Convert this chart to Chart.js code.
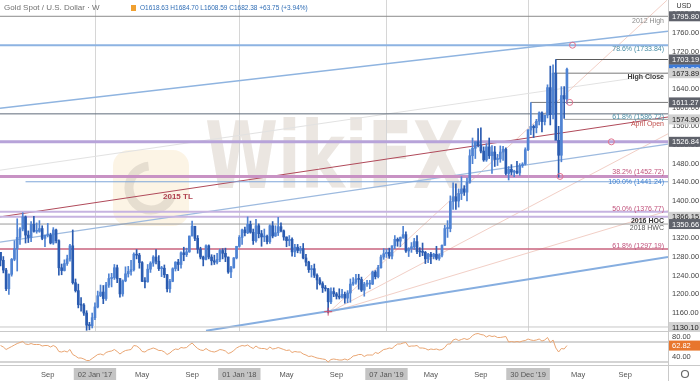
<!DOCTYPE html>
<html>
<head>
<meta charset="utf-8">
<script src="https://cdn.jsdelivr.net/npm/chart.js@4.4.1/dist/chart.umd.min.js"></script>
<style>
html, body { margin: 0; padding: 0; background: #fff; }
#wrap { width: 700px; height: 381px; position: relative; }
</style>
</head>
<body>
<div id="wrap"><canvas id="goldChart" width="700" height="381"></canvas></div>
<script>
// Weekly XAU/USD candles, week 0 = week of 09 May 2016
const opens = [
  1290,1273,1252,1212,1243,1275,1298,1322,1340,1366,
  1327,1322,1350,1335,1335,1341,1320,1327,1327,1310,
  1338,1315,1257,1251,1266,1276,1304,1225,1208,1178,
  1177,1160,1134,1133,1150,1173,1197,1205,1191,1220,
  1234,1236,1257,1234,1201,1229,1244,1249,1253,1286,
  1284,1268,1228,1227,1254,1267,1280,1271,1255,1256,
  1242,1212,1228,1255,1269,1264,1289,1285,1291,1325,
  1346,1320,1297,1280,1275,1304,1280,1272,1269,1275,
  1294,1288,1280,1248,1257,1278,1303,1322,1338,1332,
  1350,1333,1315,1347,1330,1323,1324,1313,1347,1325,
  1332,1345,1336,1323,1315,1318,1291,1301,1294,1298,
  1278,1269,1253,1255,1241,1231,1223,1214,1212,1184,
  1206,1201,1196,1194,1200,1192,1203,1222,1226,1233,
  1232,1209,1222,1222,1222,1248,1238,1257,1280,1287,
  1290,1282,1304,1318,1314,1322,1328,1293,1298,1302,
  1313,1292,1291,1290,1276,1286,1281,1286,1277,1284,
  1305,1341,1341,1399,1409,1400,1416,1426,1419,1440,
  1497,1513,1527,1520,1507,1488,1516,1497,1505,1489,
  1490,1505,1511,1459,1468,1462,1464,1460,1476,1479,
  1510,1552,1560,1557,1571,1589,1570,1584,1643,1585,
  1674,1530,1498,1626,1618.63
];
const highs = [
  1290,1281,1256,1244,1277,1315,1362,1343,1375,1368,
  1336,1356,1367,1353,1358,1347,1327,1352,1331,1343,
  1340,1317,1265,1274,1284,1307,1338,1233,1222,1193,
  1180,1165,1140,1160,1182,1207,1220,1219,1226,1244,
  1245,1264,1263,1234,1231,1259,1260,1273,1289,1296,
  1288,1270,1236,1264,1270,1283,1296,1283,1260,1263,
  1243,1232,1257,1270,1275,1291,1301,1299,1325,1357,
  1346,1326,1301,1282,1306,1306,1285,1284,1288,1297,
  1298,1299,1280,1260,1279,1303,1326,1340,1344,1366,
  1357,1340,1361,1351,1337,1340,1327,1349,1356,1347,
  1365,1353,1338,1323,1326,1321,1307,1307,1303,1309,
  1286,1271,1262,1265,1244,1236,1227,1219,1213,1214,
  1214,1204,1212,1211,1205,1208,1233,1236,1243,1243,
  1237,1226,1230,1230,1250,1251,1262,1284,1298,1297,
  1299,1304,1326,1321,1323,1346,1334,1300,1311,1320,
  1326,1300,1310,1292,1288,1290,1288,1303,1287,1306,
  1348,1358,1411,1439,1437,1426,1452,1433,1449,1510,
  1535,1527,1555,1557,1516,1523,1535,1519,1517,1500,
  1518,1517,1514,1474,1478,1466,1485,1480,1482,1514,
  1553,1611,1563,1575,1591,1591,1584,1649,1689,1692,
  1703,1560,1645,1645,1684.70
];
const lows = [
  1261,1246,1208,1200,1239,1272,1250,1307,1336,1310,
  1311,1313,1333,1331,1333,1317,1302,1323,1308,1307,
  1310,1241,1242,1250,1262,1271,1222,1205,1171,1164,
  1155,1123,1124,1128,1146,1171,1195,1180,1187,1215,
  1216,1232,1225,1194,1196,1227,1237,1241,1250,1276,
  1256,1227,1214,1226,1247,1260,1265,1251,1238,1236,
  1205,1204,1227,1250,1251,1256,1272,1281,1290,1325,
  1315,1288,1276,1261,1274,1276,1263,1264,1265,1270,
  1276,1270,1245,1236,1256,1276,1301,1307,1325,1330,
  1331,1307,1312,1321,1303,1313,1308,1309,1321,1324,
  1326,1334,1316,1302,1304,1282,1281,1289,1288,1276,
  1261,1247,1237,1236,1211,1220,1204,1207,1160,1180,
  1195,1190,1190,1192,1181,1182,1183,1219,1222,1211,
  1206,1196,1217,1212,1221,1233,1235,1256,1275,1279,
  1277,1276,1298,1303,1302,1320,1290,1281,1290,1296,
  1287,1281,1283,1266,1268,1266,1276,1274,1273,1280,
  1305,1322,1334,1382,1382,1387,1403,1412,1400,1438,
  1480,1491,1516,1503,1485,1485,1491,1459,1474,1476,
  1483,1487,1456,1445,1456,1452,1458,1455,1472,1477,
  1508,1542,1536,1546,1563,1548,1563,1578,1563,1576,
  1563,1451,1484,1577,1608.59
];
const closes = [
  1273,1252,1212,1243,1275,1298,1322,1340,1366,1327,
  1322,1350,1335,1335,1341,1320,1327,1327,1310,1338,
  1315,1257,1251,1266,1276,1304,1225,1208,1178,1177,
  1160,1134,1133,1150,1173,1197,1205,1191,1220,1234,
  1236,1257,1234,1201,1229,1244,1249,1253,1286,1284,
  1268,1228,1227,1254,1267,1280,1271,1255,1256,1242,
  1212,1228,1255,1269,1264,1289,1285,1291,1325,1346,
  1320,1297,1280,1275,1304,1280,1272,1269,1275,1294,
  1288,1280,1248,1257,1278,1303,1322,1338,1332,1350,
  1333,1315,1347,1330,1323,1324,1313,1347,1325,1332,
  1345,1336,1323,1315,1318,1291,1301,1294,1298,1278,
  1269,1253,1255,1241,1231,1223,1214,1212,1184,1206,
  1201,1196,1194,1200,1192,1203,1222,1226,1233,1232,
  1209,1222,1222,1222,1248,1238,1257,1280,1287,1290,
  1282,1304,1318,1314,1322,1328,1293,1298,1302,1313,
  1292,1291,1290,1276,1286,1281,1286,1277,1284,1305,
  1341,1341,1399,1409,1400,1416,1426,1419,1440,1497,
  1513,1527,1520,1507,1488,1516,1497,1505,1489,1490,
  1505,1511,1459,1468,1462,1464,1460,1476,1479,1510,
  1552,1560,1557,1571,1589,1570,1584,1643,1585,1674,
  1530,1498,1626,1618.63,1682.38
];
// RSI (14)
const rsiValues = [
  63,60,55,58,61,64,67,69,71,66,
  65,67,65,65,65,62,63,63,60,63,
  60,51,50,52,50,55,45,42,38,38,
  36,33,33,37,41,45,46,44,49,51,
  52,55,51,46,50,53,54,55,63,62,
  58,51,50,54,56,58,56,53,53,50,
  45,48,53,56,55,59,58,59,64,68,
  62,57,54,53,57,53,51,50,52,55,
  54,52,47,49,53,58,61,63,62,64,
  60,57,62,58,57,57,55,60,56,57,
  59,57,55,53,54,49,51,50,50,46,
  44,41,42,40,38,37,36,35,30,35,
  36,35,34,34,36,34,37,42,43,45,
  45,41,44,44,44,49,47,51,55,56,
  58,57,62,66,66,68,69,61,62,62,
  63,58,58,57,54,56,55,56,54,55,
  59,66,66,74,76,73,75,77,75,77,
  83,86,87,85,84,80,83,81,82,79,
  79,80,81,70,71,70,71,70,72,73,
  76,74,73,74,76,72,74,79,69,74,
  58,50,57,56,62.82
];

const xTickWeeks = [17, 34, 51, 69, 86, 103, 121, 139, 155, 173, 190, 208, 225];
const xTickLabels = ['Sep', "02 Jan '17", 'May', 'Sep', "01 Jan '18", 'May', 'Sep', "07 Jan '19", 'May', 'Sep', "30 Dec '19", 'May', 'Sep'];
const markedDates = ["02 Jan '17", "01 Jan '18", "07 Jan '19", "30 Dec '19"];
const priceTicks = [1160, 1200, 1240, 1280, 1320, 1360, 1400, 1440, 1480, 1520, 1560, 1600, 1640, 1680, 1720, 1760, 1800];
const rsiTicks = [80, 40];
const rsiBands = [70, 30];

// horizontal levels
const levelPrices = [1795.80, 1733.84, 1703.19, 1673.89, 1611.27, 1586.72, 1574.90, 1526.84, 1452.72, 1441.24, 1376.77, 1366.15, 1350.66, 1297.19, 1130.10];
const levelStartWeeks = [-0.2, -0.2, 200, 199, 191, -0.2, 203, -0.2, -0.2, 9, -0.2, -0.2, -0.2, -0.2, -0.2];
const levelTexts = ['2012 High', '78.6% (1733.84)', '', 'High Close', '', '61.8% (1586.72)', 'April Open', '', '38.2% (1452.72)', '100.0% (1441.24)', '50.0% (1376.77)', '2016 HOC', '2018 HWC', '61.8% (1297.19)', ''];
const axisTags = [1795.80, 1703.19, 1673.89, 1611.27, 1574.90, 1526.84, 1366.15, 1350.66, 1130.10];
const lastPrice = 1682.38;
const lastRsi = 62.82;

// trend lines: [week, price] start and end
const trendStarts = [[-0.2, 1599], [-0.2, 1366], [-0.2, 1312], [74, 1122], [118, 1160], [118, 1160], [118, 1160], [-0.2, 1466]];
const trendEnds = [[240.4, 1764], [240.4, 1580], [240.4, 1522], [240.4, 1280], [240, 1830], [240.4, 1544], [240.4, 1379], [240.4, 1674]];

const markerWeeks = [206, 205, 201.5, 220];
const markerPrices = [1733.84, 1611.27, 1452.72, 1526.84];

const X_MIN = -0.2, X_MAX = 240.4;

// styles
const trendStyles = [
  ['#8fb4e0', 1.5], ['#b04a5a', 1], ['#9dbadf', 1.2], ['#86aee0', 2],
  ['#f2cfc6', 1], ['#f2cfc6', 1], ['#f2cfc6', 1], ['#e2e2e2', 1]
];
const levelStyles = [
  ['#8c8c8c', 1], ['#8db3e2', 2], ['#5a5a5a', 1], ['#7a7a7a', 1], ['#7a7a7a', 1],
  ['#5f6b7a', 1], ['#a0a0a0', 1], ['#b7a3d9', 3], ['#c892c4', 3], ['#7ea6da', 1],
  ['#c6b3e0', 2], ['#c6b3e0', 2], ['#9a9a9a', 1], ['#c9637e', 1.5], ['#c8c8c8', 1]
];
const labelStyles = {
  '2012 High': ['#8a8a8a', 5, ''],
  '78.6% (1733.84)': ['#4a8ea6', 4, ''],
  'High Close': ['#3a3a3a', 4, 'bold '],
  '61.8% (1586.72)': ['#4a8ea6', 3, ''],
  'April Open': ['#c0504d', 5, ''],
  '38.2% (1452.72)': ['#c0507a', -4, ''],
  '100.0% (1441.24)': ['#3d7fd0', 0, ''],
  '50.0% (1376.77)': ['#c0507a', -3, ''],
  '2016 HOC': ['#333333', 4, 'bold '],
  '2018 HWC': ['#555555', 4, ''],
  '61.8% (1297.19)': ['#c0507a', -3, '']
};
const darkTags = [1795.80, 1703.19, 1611.27, 1526.84, 1350.66];

const FONT = '"Liberation Sans", Arial, sans-serif';

function buildDatasets() {
  const weeks = opens.map((_, i) => i);
  const candleColors = opens.map((o, i) => closes[i] >= o ? '#4f83d3' : '#2a5bb0');
  const sets = [];

  sets.push({
    type: 'line', yAxisID: 'rsi', order: 0,
    data: weeks.map(i => ({ x: i, y: rsiValues[i] })),
    borderColor: '#eaa673', borderWidth: 1, pointRadius: 0, tension: 0
  });
  rsiBands.forEach(v => sets.push({
    type: 'line', yAxisID: 'rsi', order: 6,
    data: [{ x: X_MIN, y: v }, { x: X_MAX, y: v }],
    borderColor: '#a9a9a9', borderWidth: 1, pointRadius: 0
  }));

  sets.push({
    type: 'bar', yAxisID: 'y', order: 2, grouped: false,
    data: weeks.map(i => ({ x: i, y: [lows[i], highs[i]] })),
    backgroundColor: candleColors, barThickness: 1
  });
  sets.push({
    type: 'bar', yAxisID: 'y', order: 1, grouped: false,
    data: weeks.map(i => ({ x: i, y: [opens[i], closes[i]] })),
    backgroundColor: candleColors, barThickness: 2, minBarLength: 1
  });

  levelPrices.forEach((p, i) => sets.push({
    type: 'line', yAxisID: 'y', order: 5,
    data: [{ x: levelStartWeeks[i], y: p }, { x: X_MAX, y: p }],
    borderColor: levelStyles[i][0], borderWidth: levelStyles[i][1], pointRadius: 0
  }));

  trendStarts.forEach((s, i) => sets.push({
    type: 'line', yAxisID: 'y', order: 7,
    data: [{ x: s[0], y: s[1] }, { x: trendEnds[i][0], y: trendEnds[i][1] }],
    borderColor: trendStyles[i][0], borderWidth: trendStyles[i][1], pointRadius: 0
  }));

  sets.push({
    type: 'line', yAxisID: 'y', order: 0, showLine: false,
    data: markerWeeks.map((w, i) => ({ x: w, y: markerPrices[i] })),
    pointRadius: 3, pointBorderWidth: 1, pointBorderColor: '#e0738f', pointBackgroundColor: 'rgba(255,255,255,0)'
  });
  sets.push({
    type: 'line', yAxisID: 'y', order: 0, showLine: false,
    data: [{ x: 118, y: 1163 }],
    pointStyle: 'cross', pointRadius: 4, pointBorderWidth: 1, pointBorderColor: '#d0506e'
  });
  return sets;
}

function tag(ctx, y, bg, fg, text) {
  ctx.fillStyle = bg;
  ctx.fillRect(669, y - 5, 31, 10);
  ctx.fillStyle = fg;
  ctx.textAlign = 'left';
  ctx.textBaseline = 'middle';
  ctx.fillText(text, 672, y + 0.5);
}

const decor = {
  id: 'decor',
  beforeDraw(chart) {
    const { ctx, width, height } = chart;
    const xs = chart.scales.x;
    ctx.save();
    ctx.fillStyle = '#fff';
    ctx.fillRect(0, 0, width, height);
    ctx.font = '7.5px ' + FONT;
    xTickLabels.forEach((lab, i) => {
      if (!markedDates.includes(lab)) return;
      const px = xs.getPixelForValue(xTickWeeks[i]);
      const w = ctx.measureText(lab).width + 8;
      ctx.fillStyle = '#c4c4c4';
      ctx.fillRect(px - w / 2, 368, w, 12);
    });
    ctx.restore();
  },
  beforeDatasetsDraw(chart) {
    const { ctx } = chart;
    const xs = chart.scales.x, ys = chart.scales.y;
    ctx.save();
    // watermark
    ctx.fillStyle = 'rgba(244, 214, 160, 0.28)';
    ctx.beginPath();
    ctx.roundRect(113, 150, 76, 76, 16);
    ctx.fill();
    ctx.strokeStyle = 'rgba(190, 180, 170, 0.35)';
    ctx.lineWidth = 9;
    ctx.beginPath();
    ctx.arc(151, 188, 22, 0.4, 4.6);
    ctx.stroke();
    ctx.fillStyle = 'rgba(205, 192, 180, 0.4)';
    ctx.font = 'bold 92px "DejaVu Sans"';
    ctx.translate(205, 188);
    ctx.scale(0.72, 1);
    ctx.fillText('WikiFX', 0, 0);
    ctx.setTransform(1, 0, 0, 1, 0, 0);
    // date markers
    ctx.strokeStyle = '#d6d6d6';
    ctx.lineWidth = 1;
    xTickLabels.forEach((lab, i) => {
      if (!markedDates.includes(lab)) return;
      const px = Math.round(xs.getPixelForValue(xTickWeeks[i])) + 0.5;
      ctx.beginPath();
      ctx.moveTo(px, ys.top);
      ctx.lineTo(px, ys.bottom);
      ctx.stroke();
    });
    ctx.restore();
  },
  afterDraw(chart) {
    const { ctx } = chart;
    const ys = chart.scales.y, rs = chart.scales.rsi;
    ctx.save();
    // pane separators
    ctx.strokeStyle = '#c9c9c9';
    ctx.lineWidth = 1;
    ctx.beginPath();
    ctx.moveTo(0, Math.round(ys.bottom) + 0.5); ctx.lineTo(700, Math.round(ys.bottom) + 0.5);
    ctx.moveTo(0, Math.round(rs.bottom) + 0.5); ctx.lineTo(700, Math.round(rs.bottom) + 0.5);
    ctx.moveTo(668.5, 0); ctx.lineTo(668.5, 381);
    ctx.stroke();

    // level labels
    levelTexts.forEach((t, i) => {
      if (!t) return;
      const st = labelStyles[t];
      const y = ys.getPixelForValue(levelPrices[i]) + st[1];
      ctx.font = st[2] + '7px ' + FONT;
      ctx.fillStyle = st[0];
      ctx.textAlign = 'right';
      ctx.textBaseline = 'middle';
      ctx.fillText(t, 664, y);
    });
    ctx.font = 'bold 8px ' + FONT;
    ctx.fillStyle = '#b0404f';
    ctx.textAlign = 'left';
    ctx.fillText('2015 TL', 163, 197);

    // price axis tags
    ctx.font = '7.5px ' + FONT;
    tag(ctx, ys.getPixelForValue(lastPrice), '#3d7bd9', '#fff', lastPrice.toFixed(2));
    axisTags.forEach(p => {
      const dark = darkTags.includes(p);
      tag(ctx, ys.getPixelForValue(p), dark ? '#5f626b' : '#d2d2d2', dark ? '#fff' : '#222', p.toFixed(2));
    });
    tag(ctx, rs.getPixelForValue(lastRsi), '#e8762d', '#fff', lastRsi.toFixed(2));

    // header
    ctx.fillStyle = '#333';
    ctx.font = '7px ' + FONT;
    ctx.textAlign = 'center';
    ctx.fillText('USD', 684, 6);
    ctx.textAlign = 'left';
    ctx.fillStyle = '#707070';
    ctx.font = '8px ' + FONT;
    ctx.fillText('Gold Spot / U.S. Dollar \u00b7 W', 4, 8);
    ctx.fillStyle = '#f0a030';
    ctx.fillRect(131, 5, 5, 6);
    ctx.fillStyle = '#2f6db5';
    ctx.font = '6.5px ' + FONT;
    const d = closes[closes.length - 1] - opens[opens.length - 1];
    ctx.fillText('O' + opens[opens.length - 1].toFixed(2) + ' H' + highs[highs.length - 1].toFixed(2) +
      ' L' + lows[lows.length - 1].toFixed(2) + ' C' + closes[closes.length - 1].toFixed(2) +
      ' +' + d.toFixed(2) + ' (+3.94%)', 140, 8);

    // settings icon
    ctx.strokeStyle = '#666';
    ctx.lineWidth = 1.2;
    ctx.beginPath();
    ctx.arc(685, 374, 3.5, 0, Math.PI * 2);
    ctx.stroke();
    ctx.restore();
  }
};

function fitSide(s) {
  s.width = 32;
  s.paddingTop = 0;
  s.paddingBottom = 0;
}

function initChart() {
  const ctx = document.getElementById('goldChart').getContext('2d');
  new Chart(ctx, {
    type: 'bar',
    data: { datasets: buildDatasets() },
    options: {
      responsive: false,
      animation: false,
      events: [],
      layout: { padding: 0, autoPadding: false },
      plugins: { legend: { display: false }, tooltip: { enabled: false } },
      scales: {
        x: {
          type: 'linear', min: X_MIN, max: X_MAX, offset: false,
          grid: { display: false, drawTicks: false, offset: false },
          border: { display: false },
          afterBuildTicks: s => { s.ticks = xTickWeeks.map(v => ({ value: v })); },
          afterFit: s => { s.height = 16; s.paddingLeft = 0; s.paddingRight = 0; },
          ticks: {
            autoSkip: false, maxRotation: 0, padding: 5,
            color: '#555', font: { size: 7.5, family: FONT },
            callback: v => { const i = xTickWeeks.indexOf(v); return i >= 0 ? xTickLabels[i] : ''; }
          }
        },
        y: {
          type: 'linear', position: 'right', stack: 'panes', stackWeight: 331,
          min: 1121.5, max: 1830.7,
          grid: { display: false, drawTicks: false },
          border: { display: false },
          afterBuildTicks: s => { s.ticks = priceTicks.map(v => ({ value: v })); },
          afterFit: fitSide,
          ticks: { autoSkip: false, padding: 4, color: '#444', font: { size: 7.5, family: FONT }, callback: v => v.toFixed(2) }
        },
        rsi: {
          type: 'linear', axis: 'y', position: 'right', stack: 'panes', stackWeight: 34,
          min: 24, max: 92,
          grid: { display: false, drawTicks: false },
          border: { display: false },
          afterBuildTicks: s => { s.ticks = rsiTicks.map(v => ({ value: v })); },
          afterFit: fitSide,
          ticks: { autoSkip: false, padding: 4, color: '#444', font: { size: 7.5, family: FONT }, callback: v => v.toFixed(2) }
        }
      }
    },
    plugins: [decor]
  });
}

window.onload = initChart;
</script>
</body>
</html>
